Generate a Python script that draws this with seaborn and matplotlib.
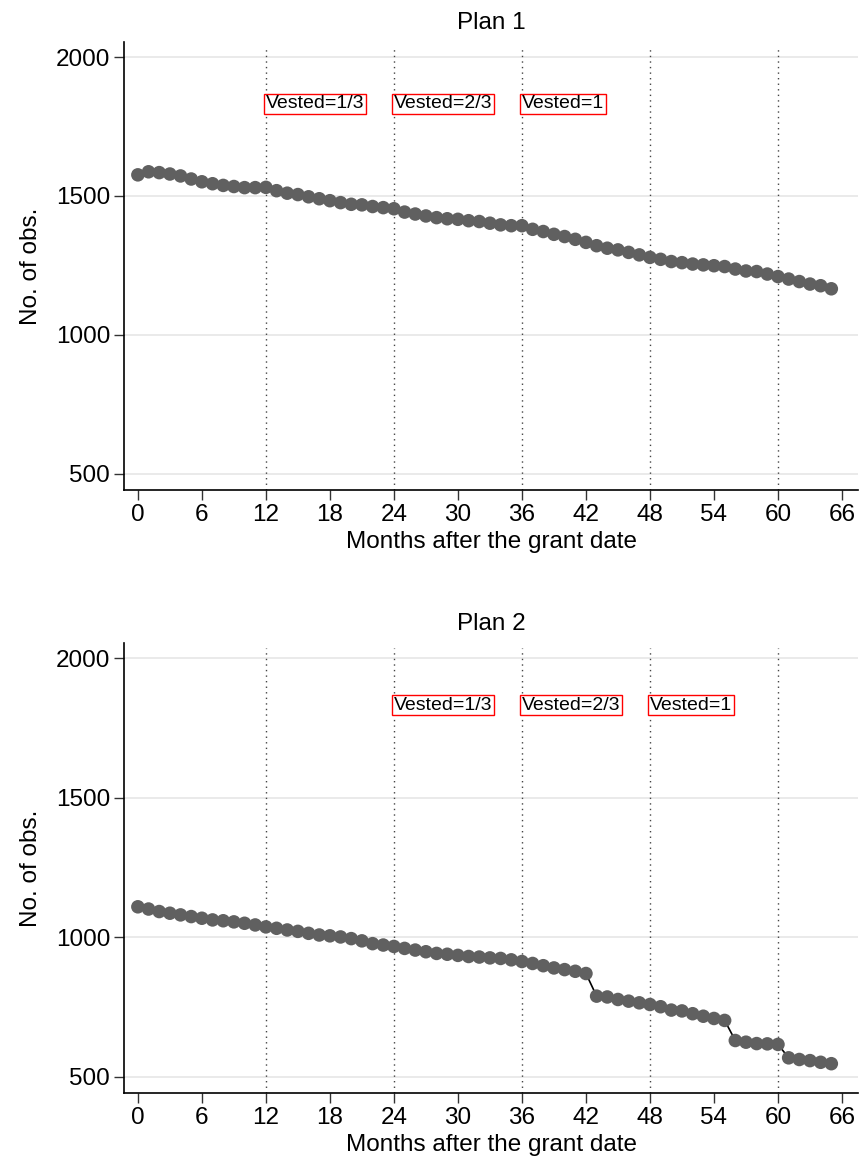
import pandas as pd
import matplotlib.pyplot as plt
import seaborn as sns

# ---------------------------------------
# Data
# ---------------------------------------
months = list(range(66))

plan1_obs = [1576, 1587, 1584, 1579, 1572, 1561, 1551, 1544, 1538, 1534,
             1530, 1530, 1531, 1519, 1510, 1505, 1497, 1490, 1483, 1476,
             1470, 1468, 1462, 1458, 1454, 1442, 1435, 1428, 1422, 1418,
             1416, 1411, 1408, 1402, 1396, 1393, 1393, 1380, 1372, 1362,
             1354, 1344, 1333, 1321, 1312, 1306, 1297, 1288, 1279, 1272,
             1264, 1260, 1255, 1252, 1249, 1246, 1237, 1230, 1228, 1219,
             1210, 1201, 1192, 1183, 1177, 1166]

plan2_obs = [1109, 1101, 1092, 1086, 1080, 1074, 1068, 1062, 1059, 1055,
             1050, 1044, 1037, 1032, 1026, 1021, 1014, 1008, 1005, 1001,
             995, 987, 977, 972, 967, 960, 954, 948, 942, 939,
             935, 931, 929, 926, 924, 919, 913, 906, 898, 890,
             884, 878, 870, 789, 786, 777, 771, 765, 759, 751,
             739, 736, 726, 717, 709, 702, 630, 624, 619, 618,
             616, 568, 562, 558, 552, 547]

vest_labels = ['Vested=1/3', 'Vested=2/3', 'Vested=1']
plan1_vest_months = [12, 24, 36]
plan2_vest_months = [24, 36, 48]
year_marks = [12, 24, 36, 48, 60]

df = pd.DataFrame({
    'Month': months * 2,
    'Obs': plan1_obs + plan2_obs,
    'Plan': ['Plan 1'] * 66 + ['Plan 2'] * 66,
})

# ---------------------------------------
# Plot
# ---------------------------------------
sns.set_style('white')
plt.rcParams['font.family'] = ['Liberation Sans', 'DejaVu Sans']
plt.rcParams['text.color'] = 'black'
plt.rcParams['axes.labelcolor'] = 'black'
plt.rcParams['xtick.color'] = 'black'
plt.rcParams['ytick.color'] = 'black'

fig = plt.figure(figsize=(8.61, 11.6), dpi=100)
axes = [fig.add_axes([124 / 861, 1 - 490 / 1160, 734 / 861, 448 / 1160]),
        fig.add_axes([124 / 861, 1 - 1093 / 1160, 734 / 861, 450 / 1160])]

for ax, plan, vest_months in zip(axes, ['Plan 1', 'Plan 2'],
                                 [plan1_vest_months, plan2_vest_months]):
    sub = df[df['Plan'] == plan]
    for y in [500, 1000, 1500, 2000]:
        ax.axhline(y, color='#e6e6e6', lw=1.2, zorder=0)
    for m in year_marks:
        ax.axvline(m, ymax=0.99, color='#444444', lw=1, ls=(0, (1, 3)),
                   zorder=1)
    sns.lineplot(x='Month', y='Obs', data=sub, ax=ax, color='black', lw=1.2,
                 zorder=2)
    sns.scatterplot(x='Month', y='Obs', data=sub, ax=ax, color='#606060',
                    s=95, edgecolor='none', zorder=3)
    for m, lab in zip(vest_months, vest_labels):
        ax.text(m, 1831, lab, fontsize=14, va='center', ha='left',
                bbox=dict(boxstyle='square,pad=0.08', fc='white', ec='red',
                          lw=1), zorder=4)

    ax.set_xlim(-1.3, 67.5)
    ax.set_ylim(442, 2054)
    ax.set_xticks(range(0, 67, 6))
    ax.set_yticks([500, 1000, 1500, 2000])
    ax.tick_params(axis='both', labelsize=17.5, length=7, width=1,
                   direction='out', pad=3, color='#333333',
                   bottom=True, left=True)
    ax.set_title(plan, fontsize=17.5, pad=9.5)
    ax.set_xlabel('Months after the grant date', fontsize=17.5, labelpad=4)
    ax.set_ylabel('No. of obs.', fontsize=17.5, labelpad=10)
    sns.despine(ax=ax)
    for sp in ['left', 'bottom']:
        ax.spines[sp].set_color('black')
        ax.spines[sp].set_linewidth(1.2)

fig.savefig('out.png', dpi=100)
